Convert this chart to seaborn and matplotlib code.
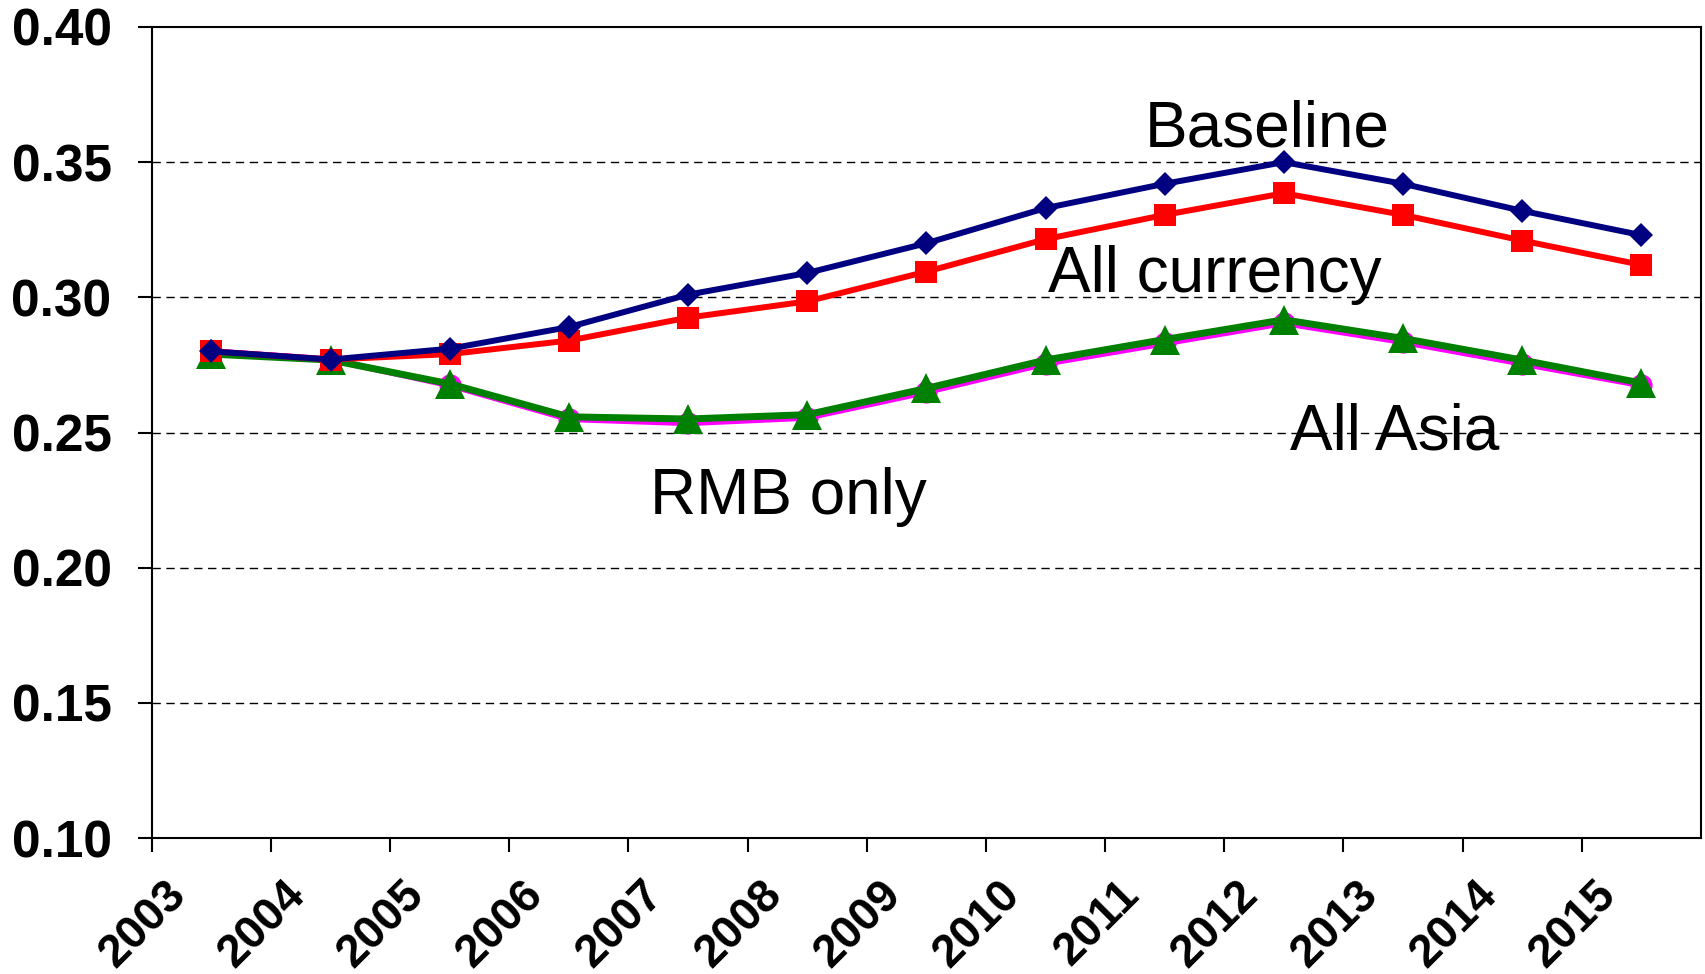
import numpy as np
import pandas as pd
import matplotlib
matplotlib.use('Agg')
import matplotlib.pyplot as plt
import seaborn as sns

sns.set_style('white')
plt.rcParams['font.family'] = ['Liberation Sans', 'DejaVu Sans']
plt.rcParams['text.color'] = 'black'
plt.rcParams['xtick.color'] = 'black'
plt.rcParams['ytick.color'] = 'black'

# dados
anos = ['2003', '2004', '2005', '2006', '2007', '2008', '2009',
        '2010', '2011', '2012', '2013', '2014', '2015']
baseline = [0.280, 0.277, 0.281, 0.289, 0.301, 0.309, 0.320,
            0.333, 0.342, 0.350, 0.342, 0.332, 0.323]
all_currency = [0.280, 0.277, 0.279, 0.284, 0.2925, 0.2985, 0.3095,
                0.3215, 0.3305, 0.3385, 0.3305, 0.321, 0.312]
rmb_only = [0.280, 0.277, 0.2675, 0.255, 0.2535, 0.2555, 0.265,
            0.2755, 0.283, 0.2905, 0.2835, 0.2755, 0.2675]
all_asia = [0.279, 0.2768, 0.268, 0.2558, 0.255, 0.2566, 0.2663,
            0.2768, 0.2844, 0.2917, 0.2848, 0.2768, 0.2683]

pos = np.arange(len(anos))
df = pd.DataFrame({'pos': pos, 'Baseline': baseline, 'All currency': all_currency,
                   'RMB only': rmb_only, 'All Asia': all_asia})

fig = plt.figure(figsize=(17.06, 9.74), dpi=100)
ax = fig.add_axes([0.089, 0.1396, 0.908, 0.8327])

# ordem de desenho: magenta, verde, vermelho, azul
sns.lineplot(data=df, x='pos', y='RMB only', ax=ax, color='magenta', linewidth=4.5,
             marker='o', markersize=16, markeredgewidth=0)
sns.lineplot(data=df, x='pos', y='All Asia', ax=ax, color='green', linewidth=5,
             marker='^', markersize=21, markeredgewidth=0)
sns.lineplot(data=df, x='pos', y='All currency', ax=ax, color='red', linewidth=4.3,
             marker='s', markersize=16, markeredgewidth=0)
sns.lineplot(data=df, x='pos', y='Baseline', ax=ax, color='navy', linewidth=4.3,
             marker='D', markersize=12.5, markeredgewidth=0)

ax.set_xlim(-0.5, 12.5)
ax.set_ylim(0.10, 0.40)
ax.set_yticks(np.arange(0.10, 0.401, 0.05))
ax.set_yticklabels(['%.2f' % v for v in np.arange(0.10, 0.401, 0.05)],
                   fontsize=37, fontweight='bold')
for v in [0.15, 0.20, 0.25, 0.30, 0.35]:
    ax.axhline(v, color='black', lw=1, ls=(0, (6, 4)), zorder=0)

# marcas nas fronteiras das categorias; rotulos em ticks menores deslocados
ax.set_xticks(pos - 0.5)
ax.set_xticklabels([])
ax.set_xticks(pos - 0.40, minor=True)
ax.set_xticklabels(anos, minor=True, fontsize=33, fontweight='bold', rotation=45,
                   ha='right', rotation_mode='anchor')
ax.tick_params(axis='x', which='major', bottom=True, direction='out', length=10,
               width=1.5, color='black')
ax.tick_params(axis='y', which='major', left=True, direction='out', length=10,
               width=1.5, color='black', pad=19)
ax.tick_params(axis='x', which='minor', bottom=True, length=0, pad=25)
ax.set_xlabel('')
ax.set_ylabel('')
for s in ax.spines.values():
    s.set_color('black')
    s.set_linewidth(1.5)

ax.text(8.86, 0.3557, 'Baseline', fontsize=46, ha='center', va='baseline')
ax.text(8.42, 0.3021, 'All currency', fontsize=46, ha='center', va='baseline')
ax.text(9.93, 0.2437, 'All Asia', fontsize=46, ha='center', va='baseline')
ax.text(4.84, 0.2200, 'RMB only', fontsize=46, ha='center', va='baseline')

fig.savefig('out.png', dpi=100)
